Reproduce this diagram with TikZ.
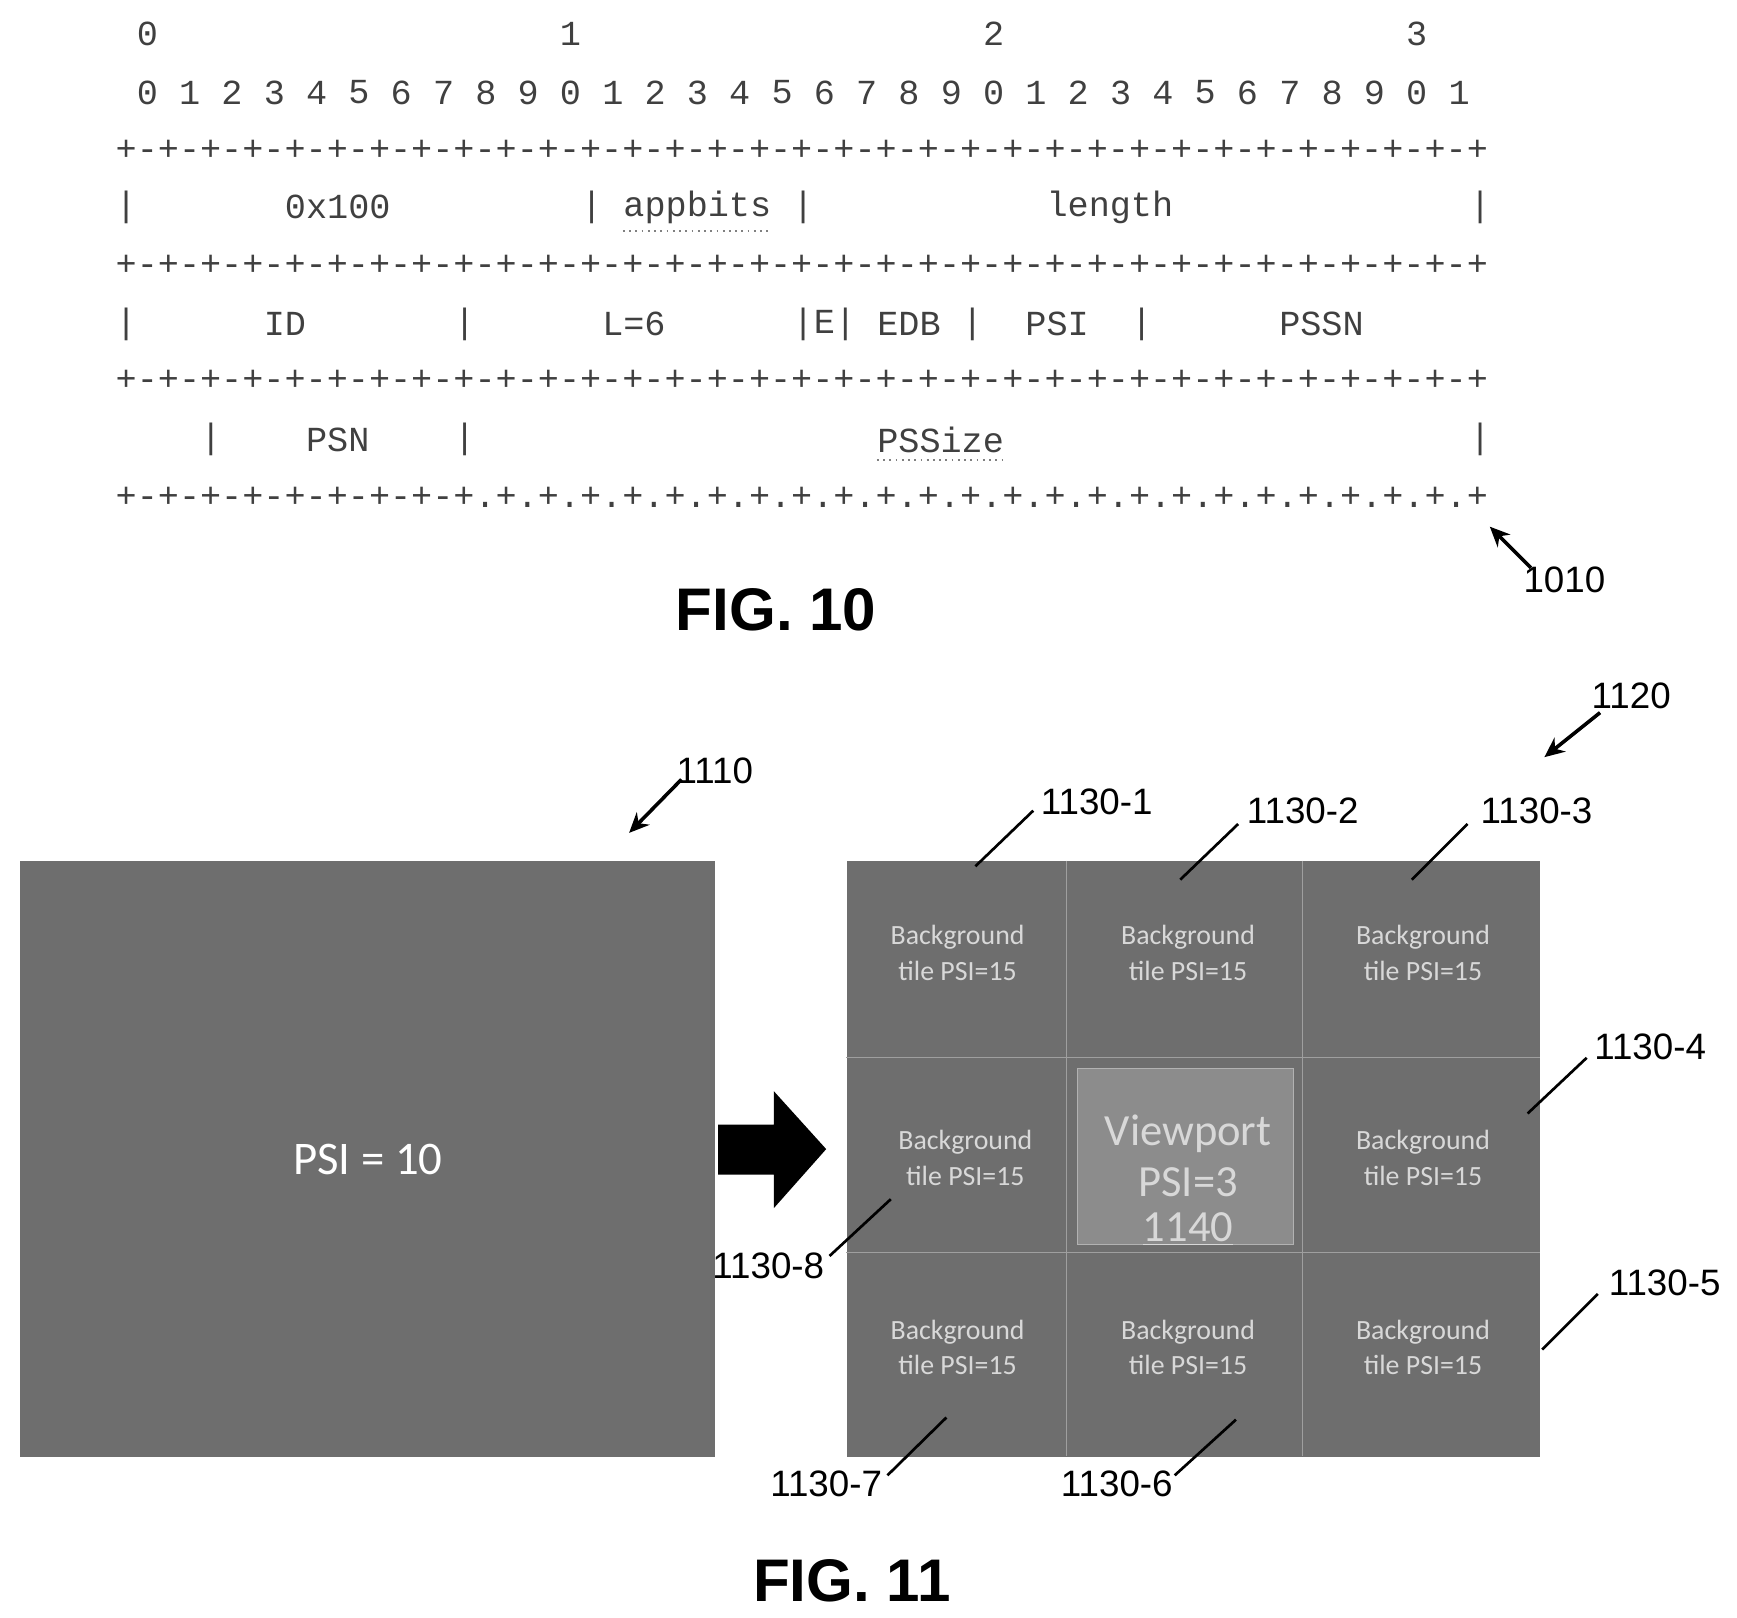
\documentclass[tikz,border=0pt]{standalone}
\usepackage{fontspec}
\setmainfont{Liberation Sans}
\newfontfamily\mono{Liberation Mono}
\newfontfamily\carl{Carlito}
\usetikzlibrary{arrows.meta}
\definecolor{box}{HTML}{6E6E6E}
\definecolor{tile}{HTML}{D8D8D8}
\begin{document}
\begin{tikzpicture}[x=0.5pt,y=-0.5pt,
  m/.style={inner sep=0,anchor=west,text=black!75,font=\mono\fontsize{15.8}{16}\selectfont},
  lab/.style={inner sep=0,font=\fontsize{16.5}{18}\selectfont},
  ld/.style={line width=1.2pt},
  la/.style={line width=1.6pt,-{Stealth[length=9pt,width=8pt]}},
  tl/.style={inner sep=0,align=center,text=tile,font=\carl\fontsize{12.5}{16}\selectfont}]
\useasboundingbox (0,0) rectangle (1560,1453);
\newcommand\mt[3]{\node[m] (t#1x#3) at ({103.5+19*#1},#3) {#2};}
% tens row
\mt{1}{0}{30}\mt{21}{1}{30}\mt{41}{2}{30}\mt{61}{3}{30}
\foreach \b in {0,...,31}{\pgfmathtruncatemacro\d{mod(\b,10)}\pgfmathtruncatemacro\i{2*\b+1}\mt{\i}{\d}{83}}
% separators
\foreach \yy in {135,238,342}{\mt{0}{+-+-+-+-+-+-+-+-+-+-+-+-+-+-+-+-+-+-+-+-+-+-+-+-+-+-+-+-+-+-+-+-+}{\yy}}
\mt{0}{+-+-+-+-+-+-+-+-+.+.+.+.+.+.+.+.+.+.+.+.+.+.+.+.+.+.+.+.+.+.+.+.+}{447}
% row 1
\mt{0}{|}{186}\mt{8}{0x100}{186}\mt{22}{|}{186}\mt{24}{appbits}{186}\mt{32}{|}{186}\mt{44}{length}{186}\mt{64}{|}{186}
% row 2
\mt{0}{|}{291}\mt{7}{ID}{291}\mt{16}{|}{291}\mt{23}{L=6}{291}\mt{32}{|E|}{291}\mt{36}{EDB}{291}\mt{40}{|}{291}\mt{43}{PSI}{291}\mt{48}{|}{291}\mt{55}{PSSN}{291}
% row 3
\mt{4}{|}{395}\mt{9}{PSN}{395}\mt{16}{|}{395}\mt{36}{PSSize}{395}\mt{64}{|}{395}
\draw[gray,dotted,line width=0.8pt] (t24x186.south west)++(0,6) -- ++(133,0);
\draw[gray,dotted,line width=0.8pt] (t36x395.south west)++(0,6) -- ++(114,0);
% 1010
\node[lab] (l1010) at (1405,521) {1010};
\coordinate (a1010) at (1338,473);
\draw[la] (1375,510) -- (a1010);
\node[inner sep=0,font=\bfseries\fontsize{27}{30}\selectfont] (f10) at (697,548) {FIG. 10};
% FIG 11 left
\node[draw=none,fill=box,minimum width=312pt,minimum height=267.5pt,inner sep=0,anchor=north west] (b1110) at (18,773) {};
\node[text=white,font=\carl\fontsize{21}{24}\selectfont] at (b1110.center) {PSI = 10};
\fill[black] (645,1010) -- (695,1010) -- (695,980) -- (742,1032) -- (695,1085) -- (695,1055) -- (645,1055) -- cycle;
% right
\node[fill=box,minimum width=311.5pt,minimum height=267.5pt,inner sep=0,anchor=north west] (b1120) at (760,773) {};
\draw[gray!75,line width=0.6pt] (958,773) -- (958,1308) (1170,773) -- (1170,1308) (760,950) -- (1383,950) (760,1125) -- (1383,1125);
\node[fill=gray!90!white,draw=gray!60,minimum width=97pt,minimum height=79pt,inner sep=0] (vp) at (1065,1039) {};
\foreach \x/\y/\n in {860/856/1,1067/856/2,1278/856/3,867/1040/8,1278/1040/4,860/1210/7,1067/1210/6,1278/1210/5}
  \node[tl] (tile\n) at (\x,\y) {Background\\tile PSI=15};
\node[inner sep=0,text=tile,align=center,font=\carl\fontsize{20}{23}\selectfont] (vpt) at (1067,1060) {Viewport\\PSI=3\\[-3pt]\underline{1140}};
% labels
\node[lab] (l1110) at (642,692) {1110}; \draw[la] (612,700) -- (565,748);
\node[lab] (l1120) at (1465,625) {1120}; \draw[la] (1437,640) -- (1387,680);
\node[lab] (c1) at (985,720) {1130-1}; \draw[ld] (928,728) -- (876,778);
\node[lab] (c2) at (1170,728) {1130-2}; \draw[ld] (1112,740) -- (1060,790);
\node[lab] (c3) at (1380,728) {1130-3}; \draw[ld] (1318,740) -- (1268,790);
\node[lab] (c4) at (1482,940) {1130-4}; \draw[ld] (1425,950) -- (1372,1000);
\node[lab] (c5) at (1495,1152) {1130-5}; \draw[ld] (1435,1162) -- (1385,1212);
\node[lab] (c6) at (1003,1333) {1130-6}; \draw[ld] (1055,1325) -- (1110,1275);
\node[lab] (c7) at (742,1333) {1130-7}; \draw[ld] (797,1325) -- (850,1273);
\node[lab] (c8) at (690,1137) {1130-8}; \draw[ld] (745,1128) -- (800,1077);
\node[inner sep=0,font=\bfseries\fontsize{27}{30}\selectfont] (f11) at (765,1420) {FIG. 11};
\end{tikzpicture}
\end{document}
